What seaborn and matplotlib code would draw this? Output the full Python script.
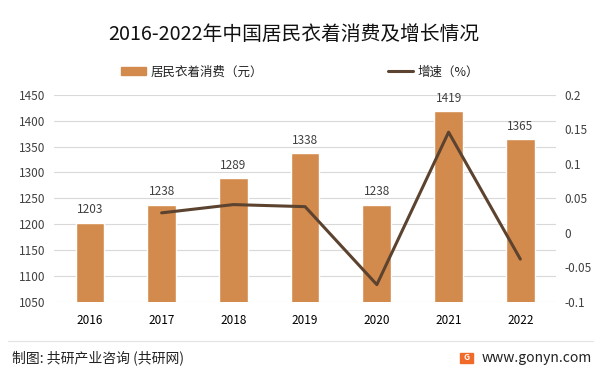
import numpy as np
import pandas as pd
import matplotlib.pyplot as plt
import matplotlib.patches as mpatches
from matplotlib.lines import Line2D
import seaborn as sns

# =========================
# Data
# =========================
years = ["2016", "2017", "2018", "2019", "2020", "2021", "2022"]
spending = [1203, 1238, 1289, 1338, 1238, 1419, 1365]
growth_years = ["2017", "2018", "2019", "2020", "2021", "2022"]
growth = [0.029, 0.041, 0.038, -0.075, 0.146, -0.038]

BAR_COLOR = "#D38B4D"
LINE_COLOR = "#5C4330"
TEXT_COLOR = "#404040"

# =========================
# Setup
# =========================
sns.set_theme(style="white")
plt.rcParams["font.family"] = ["Noto Sans CJK SC", "DejaVu Sans"]

fig = plt.figure(figsize=(6, 3.75), dpi=100)
ax = fig.add_axes([0.09, 0.195, 0.837, 0.552])

df = pd.DataFrame({"year": years, "spending": spending})
sns.barplot(data=df, x="year", y="spending", color=BAR_COLOR,
            width=0.4, saturation=1, ax=ax, zorder=2)

ax.set_ylim(1050, 1450)
ax.set_yticks(np.arange(1050, 1451, 50))
ax.grid(axis="y", color="#D9D9D9", linewidth=0.8, zorder=0)
ax.set_axisbelow(True)
for s in ax.spines.values():
    s.set_visible(False)
ax.set_xlabel("")
ax.set_ylabel("")
ax.tick_params(axis="both", length=0, labelsize=8.5, colors=TEXT_COLOR, pad=6)
ax.tick_params(axis="x", pad=9, colors="#000000")

for i, v in enumerate(spending):
    ax.text(i, v + 12, str(v), ha="center", va="bottom",
            fontsize=8.5, color=TEXT_COLOR)

# growth line on secondary axis
ax2 = ax.twinx()
pos = [years.index(y) for y in growth_years]
sns.lineplot(x=pos, y=growth, color=LINE_COLOR, linewidth=2.2, ax=ax2)
ax2.set_ylim(-0.1, 0.2)
ax2.set_yticks([-0.1, -0.05, 0, 0.05, 0.1, 0.15, 0.2])
ax2.set_yticklabels(["-0.1", "-0.05", "0", "0.05", "0.1", "0.15", "0.2"])
for s in ax2.spines.values():
    s.set_visible(False)
ax2.grid(False)
ax2.tick_params(axis="y", length=0, labelsize=8.5, colors=TEXT_COLOR, pad=6)
ax.set_xlim(-0.5, len(years) - 0.5)

# =========================
# Title & legend
# =========================
fig.text(0.49, 0.907, "2016-2022年中国居民衣着消费及增长情况",
         ha="center", va="center", fontsize=14.2, color="#111111")

handles = [mpatches.Patch(color=BAR_COLOR, label="居民衣着消费（元）"),
           Line2D([0], [0], color=LINE_COLOR, linewidth=2.2, label="增速（%）")]
fig.legend(handles=handles, loc="center", bbox_to_anchor=(0.5, 0.808),
           ncol=2, frameon=False, fontsize=9, columnspacing=10,
           handlelength=2.0, handleheight=0.6, handletextpad=0.4,
           labelcolor="#222222")

# =========================
# Footer
# =========================
fig.add_artist(Line2D([0.013, 0.988], [0.09, 0.09], color="#E3E3E3",
                      linewidth=0.8, transform=fig.transFigure))
fig.text(0.02, 0.045, "制图: 共研产业咨询 (共研网)", ha="left", va="center",
         fontsize=10, color="#222222")
fig.add_artist(mpatches.Rectangle((0.767, 0.033), 0.022, 0.026,
                                  color="#F06A2A", transform=fig.transFigure))
fig.text(0.778, 0.046, "G", ha="center", va="center", fontsize=6,
         color="white", fontweight="bold")
fig.text(0.987, 0.045, "www.gonyn.com", ha="right", va="center",
         fontsize=10, color="#222222")

fig.savefig("out.png", dpi=100, facecolor="white")
plt.close(fig)
